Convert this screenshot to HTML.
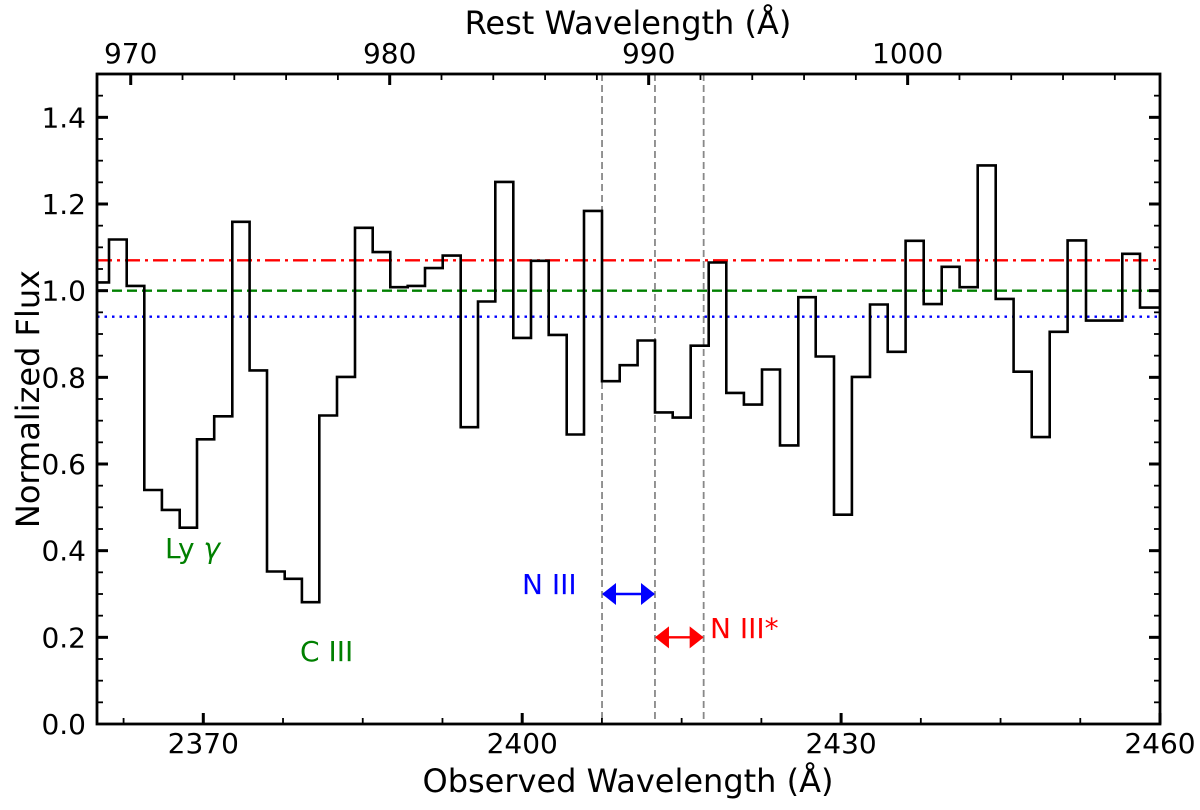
<!DOCTYPE html>
<html><head><meta charset="utf-8"><style>
html,body{margin:0;padding:0;background:#fff;}
svg text{font-family:"DejaVu Sans","Liberation Sans",sans-serif;}
</style></head><body>
<svg id="chart" width="1200" height="810" viewBox="0 0 1200 810" xmlns="http://www.w3.org/2000/svg" style="position:absolute;left:0;top:0">
<defs>
<marker id="ab" markerWidth="14" markerHeight="22" refX="13" refY="11" orient="auto-start-reverse" markerUnits="userSpaceOnUse"><path d="M0,0 L14,11 L0,22 Z" fill="blue"/></marker>
<marker id="ar" markerWidth="14" markerHeight="22" refX="13" refY="11" orient="auto-start-reverse" markerUnits="userSpaceOnUse"><path d="M0,0 L14,11 L0,22 Z" fill="red"/></marker>
<clipPath id="plotclip"><rect x="97" y="74" width="1063" height="650"/></clipPath>
</defs>
<g id="marks" clip-path="url(#plotclip)"></g>
<g id="axes"></g>
</svg>
<script>
// ---- data ----
const binEdges = [2359.47,2361.13,2362.79,2364.45,2366.11,2367.78,2369.41,2371.03,2372.73,2374.36,2375.99,2377.66,2379.28,2380.91,2382.58,2384.27,2385.94,2387.59,2389.23,2390.86,2392.52,2394.21,2395.84,2397.47,2399.16,2400.83,2402.49,2404.19,2405.81,2407.51,2409.17,2410.86,2412.49,2414.16,2415.85,2417.54,2419.20,2420.86,2422.56,2424.25,2425.97,2427.61,2429.33,2431.02,2432.72,2434.38,2436.07,2437.77,2439.46,2441.15,2442.85,2444.54,2446.23,2447.93,2449.62,2451.31,2453.04,2454.76,2456.45,2458.12,2461.5];
const flux = [1.019,1.118,1.011,0.540,0.494,0.453,0.657,0.710,1.159,0.816,0.352,0.335,0.281,0.712,0.801,1.145,1.089,1.008,1.011,1.052,1.081,0.685,0.975,1.251,0.891,1.069,0.898,0.668,1.184,0.791,0.828,0.885,0.719,0.707,0.873,1.065,0.764,0.737,0.818,0.643,0.985,0.848,0.483,0.801,0.968,0.859,1.115,0.969,1.055,1.008,1.289,0.981,0.813,0.662,0.905,1.116,0.931,0.931,1.085,0.961];
const refLevels = [1.07, 1.0, 0.94];
const lineWaves = [2407.51, 2412.49, 2417.07];
const xTicks = [2370, 2400, 2430, 2460];
const yTicks = [0.0, 0.2, 0.4, 0.6, 0.8, 1.0, 1.2, 1.4];
const restTicks = [970, 980, 990, 1000];
const onePlusZ = 2.43626;

// ---- axes ----
const X0=97, X1=1160, Y0=724, Y1=74, XMIN=2360, XMAX=2460, YMIN=0, YMAX=1.5;
const sx = v => X0 + (v-XMIN)/(XMAX-XMIN)*(X1-X0);
const sy = v => Y0 - (v-YMIN)/(YMAX-YMIN)*(Y0-Y1);
const NS='http://www.w3.org/2000/svg';
function mk(tag, attrs, parent, txt){const e=document.createElementNS(NS,tag);for(const k in attrs)e.setAttribute(k,attrs[k]);if(txt!==undefined)e.textContent=txt;parent.appendChild(e);return e;}
const marks=document.getElementById('marks'), axes=document.getElementById('axes');

const refStyles=[{c:'red',d:'15,5,3,5'},{c:'green',d:'10,5'},{c:'blue',d:'2.5,5'}];
const refNames=['continuum-red-dashdot','continuum-green-dashed','continuum-blue-dotted'];
refLevels.forEach((v,i)=>{
  const l=mk('line',{x1:X0,x2:X1,y1:sy(v),y2:sy(v),stroke:refStyles[i].c,'stroke-width':2.4,'stroke-dasharray':refStyles[i].d},marks);
  
  
});
lineWaves.forEach((w,i)=>{
  const l=mk('line',{x1:sx(w),x2:sx(w),y1:Y1,y2:Y0,stroke:'#888','stroke-width':1.8,'stroke-dasharray':'7,4'},marks);
  
  
});
let d='';
flux.forEach((f,i)=>{
  const xa=sx(binEdges[i]), xb=sx(binEdges[i+1]), y=sy(f);
  d += (i===0?'M':'L')+xa.toFixed(1)+','+y.toFixed(1)+' L'+xb.toFixed(1)+','+y.toFixed(1)+' ';
});
const sp=mk('path',{d:d,fill:'none',stroke:'#000','stroke-width':2.6},marks);



const a1=mk('line',{x1:sx(lineWaves[0])+1,x2:sx(lineWaves[1])-1,y1:sy(0.3),y2:sy(0.3),stroke:'blue','stroke-width':2.4,'marker-start':'url(#ab)','marker-end':'url(#ab)'},axes);


const a2=mk('line',{x1:sx(lineWaves[1])+1,x2:sx(lineWaves[2])-1,y1:sy(0.2),y2:sy(0.2),stroke:'red','stroke-width':2.4,'marker-start':'url(#ar)','marker-end':'url(#ar)'},axes);



const fr=mk('rect',{x:X0,y:Y1,width:X1-X0,height:Y0-Y1,fill:'none',stroke:'#000','stroke-width':2.8},axes);



for(let v=2362.5; v<=2460; v+=7.5){
  const maj = xTicks.includes(v); const L = maj?11:6;
  mk('line',{x1:sx(v),x2:sx(v),y1:Y0,y2:Y0-L,stroke:'#000','stroke-width':maj?3:1.8},axes);
}
xTicks.forEach(v=>{
  const t=mk('text',{x:sx(v),y:753,'font-size':28,'text-anchor':'middle'},axes,String(v));
  
  
});
for(let k=1;k<=29;k++){
  const v=k*0.05; const maj = k%4===0; const L=maj?11:6;
  mk('line',{x1:X0,x2:X0+L,y1:sy(v),y2:sy(v),stroke:'#000','stroke-width':maj?3:1.8},axes);
  mk('line',{x1:X1,x2:X1-L,y1:sy(v),y2:sy(v),stroke:'#000','stroke-width':maj?3:1.8},axes);
}
yTicks.forEach(v=>{
  const t=mk('text',{x:86,y:sy(v)+10,'font-size':28,'text-anchor':'end'},axes,v.toFixed(1));
  
  
});
for(let r=970; r<=1010; r+=2){
  const px=sx(r*onePlusZ); if(px<X0||px>X1) continue;
  const maj = restTicks.includes(r); const L=maj?11:6;
  mk('line',{x1:px,x2:px,y1:Y1,y2:Y1+L,stroke:'#000','stroke-width':maj?3:1.8},axes);
}
restTicks.forEach(r=>{
  const t=mk('text',{x:sx(r*onePlusZ),y:63,'font-size':28,'text-anchor':'middle'},axes,String(r));
  
  
});
</script>
<svg style="position:absolute;left:0;top:0" width="1200" height="810">
<text x="628" y="792" font-size="32" text-anchor="middle" font-family="DejaVu Sans, Liberation Sans, sans-serif">Observed Wavelength (Å)</text>
<text x="628" y="34" font-size="32" text-anchor="middle" font-family="DejaVu Sans, Liberation Sans, sans-serif">Rest Wavelength (Å)</text>
<text x="0" y="0" font-size="32" text-anchor="middle" transform="translate(39,399) rotate(-90)" font-family="DejaVu Sans, Liberation Sans, sans-serif">Normalized Flux</text>
<text x="165" y="558" font-size="28" fill="green" font-family="DejaVu Sans, Liberation Sans, sans-serif">Ly <tspan font-style="italic">γ</tspan></text>
<text x="300" y="661" font-size="28" fill="green" font-family="DejaVu Sans, Liberation Sans, sans-serif">C III</text>
<text x="522" y="594" font-size="28" fill="blue" font-family="DejaVu Sans, Liberation Sans, sans-serif">N III</text>
<text x="710" y="638" font-size="28" fill="red" font-family="DejaVu Sans, Liberation Sans, sans-serif">N III*</text>
</svg>
</body></html>
